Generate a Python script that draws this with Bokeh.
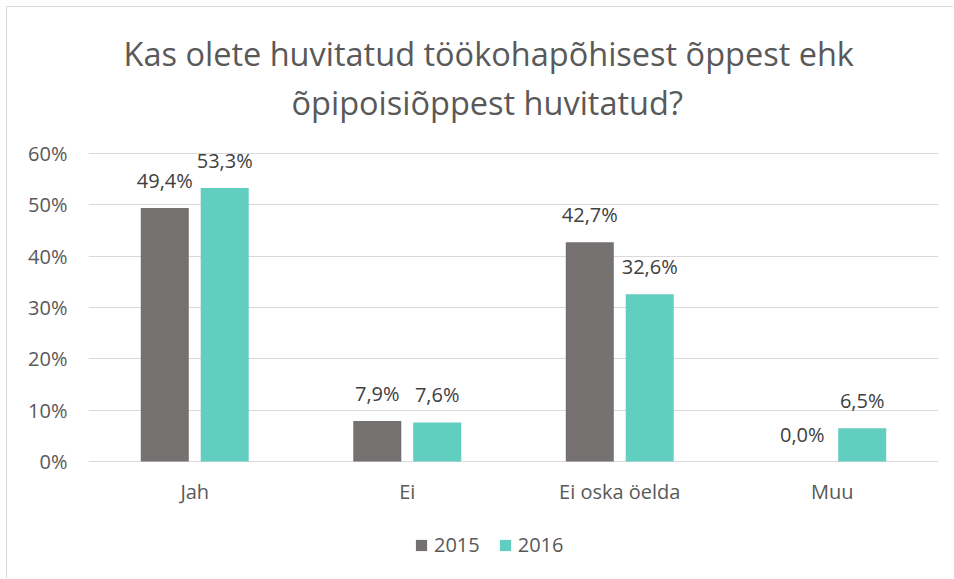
from bokeh.plotting import figure
from bokeh.models import (ColumnDataSource, FactorRange, Range1d, LabelSet, Label, Legend, LegendItem,
                          FixedTicker, CustomJSTickFormatter)
from bokeh.core.properties import value
from bokeh.transform import dodge
from bokeh.embed import file_html
from bokeh.resources import INLINE

categories = ["Jah", "Ei", "Ei oska öelda", "Muu"]
values_2015 = [49.4, 7.9, 42.7, 0.0]
values_2016 = [53.3, 7.6, 32.6, 6.5]
y_ticks = [0, 10, 20, 30, 40, 50, 60]
title_line1 = "Kas olete huvitatud töökohapõhisest õppest ehk"
title_line2 = "õpipoisiõppest huvitatud?"
series_names = ["2015", "2016"]

C2015 = "#767171"
C2016 = "#62cdc1"
FONT = "Open Sans"
SMALL = "20px"

# layout geometry (pixels): 0..60 % spans 308 px, 118 px below the 0 line, 146 px above 60 %
PLOT_H = 308
BELOW = 118
ABOVE = 146
y_lo = -BELOW * 60.0 / PLOT_H
y_hi = 60 + ABOVE * 60.0 / PLOT_H

def fmt(v):
    return ("%.1f%%" % v).replace(".", ",")

src = ColumnDataSource(dict(
    cat=categories,
    v15=values_2015,
    v16=values_2016,
    l15=[fmt(v) for v in values_2015],
    l16=[fmt(v) for v in values_2016],
))

p = figure(width=947, height=572, x_range=FactorRange(*categories), y_range=Range1d(y_lo, y_hi),
           output_backend="svg", toolbar_location=None, title=None, x_axis_location=None,
           min_border_left=81, min_border_right=16, min_border_top=0, min_border_bottom=0)
p.styles = {"margin-left": "6px", "margin-top": "6px",
            "border-left": "1px solid #d9d9d9", "border-top": "1px solid #d9d9d9"}
p.outline_line_color = None
p.background_fill_color = "white"
p.border_fill_color = "white"

r15 = p.vbar(x=dodge("cat", -0.141, range=p.x_range), top="v15", width=0.226, source=src,
             fill_color=C2015, line_color=None)
r16 = p.vbar(x=dodge("cat", 0.141, range=p.x_range), top="v16", width=0.226, source=src,
             fill_color=C2016, line_color=None)

for col, lab, off in (("v15", "l15", -0.141), ("v16", "l16", 0.141)):
    ls = LabelSet(x=dodge("cat", off, range=p.x_range), y=col, text=lab, source=src,
                  text_align="center", text_baseline="alphabetic", y_offset=20,
                  text_font=value(FONT), text_font_size=value(SMALL), text_color="#404040")
    p.add_layout(ls)

# category labels under the 0 % line
cat_labels = LabelSet(x="cat", y=0, text="cat", source=src, text_align="center",
                      text_baseline="alphabetic", y_offset=-37,
                      text_font=value(FONT), text_font_size=value(SMALL), text_color="#595959")
p.add_layout(cat_labels)

# two-line chart title
for txt, xs, ys in ((title_line1, 35, 526), (title_line2, 203, 477)):
    p.add_layout(Label(x=xs, y=ys, x_units="screen", y_units="screen", text=txt,
                       text_align="left", text_baseline="alphabetic",
                       text_font=FONT, text_font_size="32.5px", text_color="#595959"))

p.yaxis.ticker = FixedTicker(ticks=y_ticks)
p.yaxis.formatter = CustomJSTickFormatter(code="return tick.toFixed(0) + '%';")
p.yaxis.axis_line_color = None
p.yaxis.major_tick_line_color = None
p.yaxis.minor_tick_line_color = None
p.yaxis.major_label_standoff = 15
p.yaxis.major_label_text_font = FONT
p.yaxis.major_label_text_font_size = SMALL
p.yaxis.major_label_text_color = "#595959"

p.xgrid.grid_line_color = None
p.ygrid.ticker = FixedTicker(ticks=y_ticks)
p.ygrid.grid_line_color = "#d9d9d9"
p.ygrid.grid_line_width = 1

legend = Legend(items=[LegendItem(label=series_names[0], renderers=[r15]),
                       LegendItem(label=series_names[1], renderers=[r16])],
                orientation="horizontal", location=(326, 21),
                label_text_font=FONT, label_text_font_size=SMALL, label_text_color="#595959",
                glyph_width=14, glyph_height=14, label_standoff=6, spacing=18,
                border_line_color=None, background_fill_alpha=0, padding=0, margin=0)
p.add_layout(legend)

open("out.html", "w").write(file_html(p, INLINE))
